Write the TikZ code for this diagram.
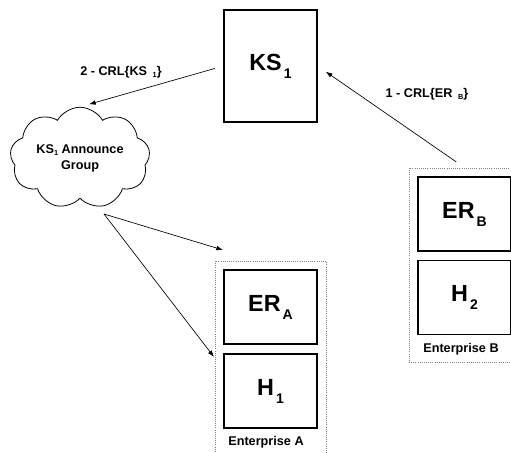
\documentclass[tikz,border=0pt]{standalone}
\usepackage{fontspec}
\setmainfont{Liberation Sans}
\usetikzlibrary{shapes.symbols,arrows.meta}

\newcommand{\bigsub}[2]{#1\kern1.5pt\raisebox{-6pt}{\fontsize{10.5}{10.5}\selectfont #2}}
\newcommand{\smallsub}[2]{#1\raisebox{-2pt}{\fontsize{5.5}{5.5}\selectfont #2}}

\begin{document}
\begin{tikzpicture}[x=0.75pt,y=-0.75pt,
  box/.style={rectangle, draw, line width=0.8pt, minimum width=69.75pt, minimum height=55.5pt,
    font=\fontsize{17.5}{20}\selectfont\bfseries},
  group/.style={rectangle, draw, gray, densely dotted, line width=0.6pt, minimum width=83.25pt, minimum height=145.5pt},
  lbl/.style={font=\fontsize{9.5}{11}\selectfont\bfseries, inner sep=0pt},
  arr/.style={-{Latex[length=5pt,width=3.5pt]}, line width=0.5pt}]

  \useasboundingbox (0,0) rectangle (511,453);

  % TOP
  \node [box, minimum height=84pt] (ks) at (270.5,66) {\bigsub{KS}{1}};
  \node [cloud, draw, cloud puffs=9, cloud puff arc=120, aspect=1.5, line width=0.6pt,
    minimum width=105pt, minimum height=70pt, inner sep=0pt, align=center,
    font=\fontsize{9.5}{12}\selectfont\bfseries] (cloud) at (80,158) {\smallsub{KS}{1} Announce\\Group};

  \draw [arr, shorten <=6.75pt, shorten >=7pt] (ks.west) -- (cloud.north);
  \node [lbl] (lbl2) at (121,72) {2 - CRL\{KS\ \,\smallsub{}{1}\}};

  % ENTERPRISE A
  \node [group] (entA) at (270.5,358) {};
  \node [box] (era) at (270.5,307) {\bigsub{ER}{A}};
  \node [box] (h1) at (270.5,391) {\bigsub{H}{1}};
  \node [lbl] (lblA) at (266,442) {Enterprise A};

  \coordinate (fork) at (104,214);
  \coordinate (tipA) at (223,250);
  \coordinate (tipH) at (214,357);
  \draw [arr] (fork) -- (tipA);
  \draw [arr] (fork) -- (tipH);

  % ENTERPRISE B
  \node [group] (entB) at (464.5,265) {};
  \node [box] (erb) at (464.5,214) {\bigsub{ER}{B}};
  \node [box] (h2) at (464.5,297.5) {\bigsub{H}{2}};
  \node [lbl] (lblB) at (461,349) {Enterprise B};

  \draw [arr, shorten <=7.5pt, shorten >=7.5pt] (entB.north) -- (ks.east);
  \node [lbl] (lbl1) at (427,94) {1 - CRL\{ER\ \,\smallsub{}{B}\}};

\end{tikzpicture}
\end{document}
